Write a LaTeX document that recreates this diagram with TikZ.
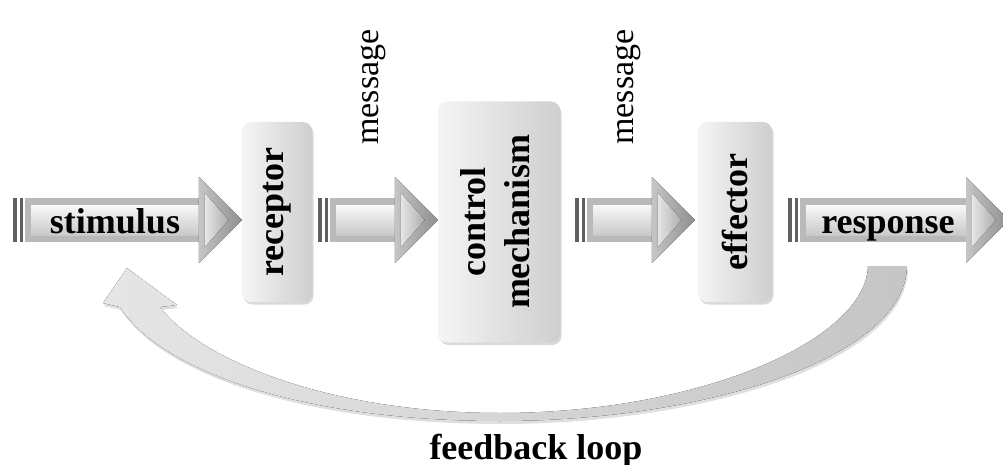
\documentclass[tikz,border=0pt]{standalone}
\usepackage{fontspec}
\setmainfont{Liberation Serif}
\usepackage{graphicx}
\usetikzlibrary{calc,shadows}

% block arrow with a double bar at its tail: #1 tail, #2 tip
\newcommand{\blockarrow}[2]{%
  \fill[gray!75!black] ($(#1)+(-12,-22)$) rectangle ($(#1)+(-8,22)$);
  \fill[gray!75!black] ($(#1)+(-5,-22)$) rectangle ($(#1)+(-2,22)$);
  \fill[gray!55] ($(#1)+(0,-22)$) rectangle ($(#2)+(-43,22)$);
  \fill[top color=gray!5, bottom color=gray!42] ($(#1)+(6,-15)$) rectangle ($(#2)+(-43,15)$);
  \fill[left color=gray!45, right color=gray!88] ($(#2)+(-43,-43)$) -- (#2) -- ($(#2)+(-43,43)$) -- cycle;
  \fill[left color=gray!20, right color=gray!65] ($(#2)+(-37,-27)$) -- ($(#2)+(-13,0)$) -- ($(#2)+(-37,27)$) -- cycle;
}

\begin{document}
\begin{tikzpicture}[x=1pt, y=-1pt,
    stage/.style={rounded corners=9pt, left color=gray!8, right color=gray!38,
      drop shadow={opacity=0.3, shadow xshift=1.5pt, shadow yshift=-2.5pt},
      inner sep=0pt, font=\fontsize{36}{44}\selectfont\bfseries},
    bigbold/.style={font=\fontsize{36}{44}\selectfont\bfseries, inner sep=0pt},
    msg/.style={font=\fontsize{34}{38}\selectfont, inner sep=0pt, rotate=90},
    feedback/.style={left color=gray!20, middle color=gray!5, right color=gray!45,
      drop shadow={opacity=0.25, shadow xshift=1pt, shadow yshift=-3pt}}]
    \clip (0,0) rectangle (1003,465);

    \node[stage, minimum width=70pt, minimum height=180pt] (receptor) at (277,212) {\rotatebox{90}{receptor}};
    \node[stage, minimum width=122pt, minimum height=241pt] (control) at (499,222)
        {\rotatebox{90}{\begin{tabular}{@{}c@{}}control\\mechanism\end{tabular}}};
    \node[stage, minimum width=74pt, minimum height=180pt] (effector) at (735,212) {\rotatebox{90}{effector}};

    \coordinate (stimtail) at (25,220);
    \coordinate (stimtip) at (receptor.west |- stimtail);
    \coordinate (m1tail) at ($(receptor.east |- stimtail)+(18,0)$);
    \coordinate (m1tip) at (control.west |- stimtail);
    \coordinate (m2tail) at ($(control.east |- stimtail)+(27,0)$);
    \coordinate (m2tip) at ($(effector.west |- stimtail)+(-3,0)$);
    \coordinate (resptail) at ($(effector.east |- stimtail)+(28,0)$);
    \coordinate (resptip) at (1009,220);

    \blockarrow{stimtail}{stimtip}
    \blockarrow{m1tail}{m1tip}
    \blockarrow{m2tail}{m2tip}
    \blockarrow{resptail}{resptip}

    \node[bigbold, anchor=base] (stimulus) at (115,233) {stimulus};
    \node[bigbold, anchor=base] (response) at (888,233) {response};
    \node[msg] (msg1) at (373,87) {message};
    \node[msg] (msg2) at (628,87) {message};

    % feedback loop
    \coordinate (fbout) at (907,266);
    \coordinate (fbin) at (868,266);
    \coordinate (fbtip) at (127,268);
    \fill[feedback] (fbout) .. controls (905,360) and (700,421) .. (500,421)
        .. controls (300,421) and (160,370) .. (120,307) -- (103,303) -- (fbtip)
        -- (177,305) -- (160,307) .. controls (200,360) and (330,413) .. (500,413)
        .. controls (700,413) and (866,340) .. (fbin) -- cycle;
    \node[bigbold, anchor=base] (feedbackloop) at (536,459) {feedback loop};
\end{tikzpicture}
\end{document}
